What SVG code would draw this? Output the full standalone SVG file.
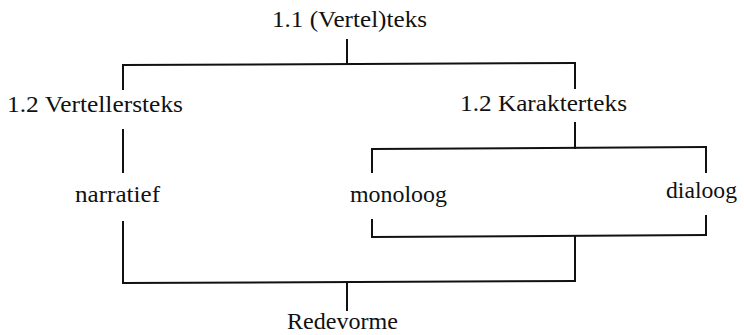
<svg xmlns="http://www.w3.org/2000/svg" width="744" height="335" viewBox="0 0 744 335">
<style>
  .t { font-family: "Liberation Serif", "Times New Roman", serif; font-size: 23px; fill: #111; }
  .c { stroke: #111; stroke-width: 2; fill: none; stroke-linecap: square; }
</style>
<rect width="744" height="335" fill="#fff"/>
<g id="connectors">
  <path class="c" d="M347 40 V64"/>
  <path class="c" d="M123 65 L575 63"/>
  <path class="c" d="M123 65 V89"/>
  <path class="c" d="M575 63 V88"/>
  <path class="c" d="M123 130 V172"/>
  <path class="c" d="M575 123 V148"/>
  <path class="c" d="M372 149 L706 147"/>
  <path class="c" d="M372 149 V172"/>
  <path class="c" d="M706 147 V172"/>
  <path class="c" d="M123 222 V283"/>
  <path class="c" d="M372 220 V237"/>
  <path class="c" d="M706 216 V235"/>
  <path class="c" d="M372 237 L706 235"/>
  <path class="c" d="M575 236 V281"/>
  <path class="c" d="M123 283 L575 281"/>
  <path class="c" d="M347 282 V310"/>
</g>
<g id="n-verteltekst"><text class="t" x="272" y="27" textLength="155" lengthAdjust="spacingAndGlyphs">1.1  (Vertel)teks</text></g>
<g id="n-vertellersteks"><text class="t" x="7" y="112" textLength="176" lengthAdjust="spacingAndGlyphs">1.2  Vertellersteks</text></g>
<g id="n-karakterteks"><text class="t" x="460" y="111" textLength="167" lengthAdjust="spacingAndGlyphs">1.2  Karakterteks</text></g>
<g id="n-narratief"><text class="t" x="75" y="202" textLength="85" lengthAdjust="spacingAndGlyphs">narratief</text></g>
<g id="n-monoloog"><text class="t" x="350" y="202" textLength="97" lengthAdjust="spacingAndGlyphs">monoloog</text></g>
<g id="n-dialoog"><text class="t" x="666" y="198" textLength="71" lengthAdjust="spacingAndGlyphs">dialoog</text></g>
<g id="n-redevorme"><text class="t" x="287" y="329" textLength="111" lengthAdjust="spacingAndGlyphs">Redevorme</text></g>
</svg>
